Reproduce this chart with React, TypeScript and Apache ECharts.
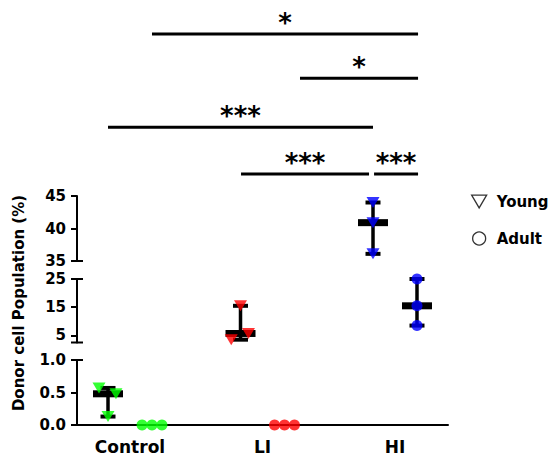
import React, { useEffect, useRef } from 'react';
import * as echarts from 'echarts';

// ---- data ----
const CATEGORIES = ['Control', 'LI', 'HI'];
const GROUPS = ['Young', 'Adult'];
const YOUNG_VALUES = [
  [0.57, 0.48, 0.13],
  [15.5, 5.7, 3.5],
  [44, 40.9, 36.1],
];
const ADULT_VALUES = [
  [0, 0, 0],
  [0, 0, 0],
  [25, 15.5, 8.5],
];
const CATEGORY_COLORS = ['#00ff00', '#ff0000', '#0000ff'];
const Y_LABEL = 'Donor cell Population (%)';

// broken y axis segments, top to bottom
const SEGMENT_MIN = [35, 2.5, 0];
const SEGMENT_MAX = [45, 25, 1];
const SEGMENT_TICKS = [
  [35, 40, 45],
  [5, 15, 25],
  [0, 0.5, 1],
];
const SEGMENT_CAPS = [[35], [2.5, 25], [1]];

// significance brackets (x in category units, level = row)
const BRACKET_FROM = [0.166, 1.283, -0.166, 0.838, 1.842];
const BRACKET_TO = [2.174, 2.174, 1.834, 1.804, 2.174];
const BRACKET_LEVEL = [4, 3.05, 2, 1, 1];
const BRACKET_LABEL = ['*', '*', '***', '***', '***'];

// ---- layout / style ----
const FONT = "'DejaVu Sans', 'Noto Sans', sans-serif";
const X_MIN = -0.4;
const X_MAX = 2.4;
const GROUP_OFFSET = [-0.166, 0.166];
const YOUNG_JITTER = [
  [-0.068, 0.06, 0],
  [0, 0.06, -0.07],
  [0, 0, 0],
];
const ADULT_JITTER = [
  [-0.075, 0, 0.075],
  [-0.075, 0, 0.075],
  [0, 0, 0],
];
const GRID_LEFT = 77;
const GRID_WIDTH = 371;
const SEG_TOP = [196, 279, 360];
const SEG_HEIGHT = [65, 63.5, 65];

function buildOption() {
  const groupValues = [YOUNG_VALUES, ADULT_VALUES];
  const jitters = [YOUNG_JITTER, ADULT_JITTER];
  const symbols = ['path://M0,0L10,0L5,8.5Z', 'circle'];
  const symbolSizes: any[] = [[13, 11], 11];
  const inSeg = (v: number, s: number) =>
    v >= SEGMENT_MIN[s] - 1e-9 && v <= SEGMENT_MAX[s] + 1e-9;

  const grids: any[] = [];
  const xAxes: any[] = [];
  const yAxes: any[] = [];
  const series: any[] = [];

  for (let s = 0; s < 3; s++) {
    grids.push({ left: GRID_LEFT, width: GRID_WIDTH, top: SEG_TOP[s], height: SEG_HEIGHT[s] });
    xAxes.push({
      type: 'value',
      gridIndex: s,
      min: X_MIN,
      max: X_MAX,
      show: s === 2,
      axisLine: { show: true, onZero: false, lineStyle: { color: '#000', width: 2 } },
      axisTick: { show: false },
      splitLine: { show: false },
      axisLabel: {
        customValues: [0, 1, 2],
        formatter: (v: number) => CATEGORIES[Math.round(v)],
        fontSize: 17,
        fontWeight: 'bold',
        color: '#000',
        fontFamily: FONT,
        margin: 13,
      },
    });
    yAxes.push({
      type: 'value',
      gridIndex: s,
      min: SEGMENT_MIN[s],
      max: SEGMENT_MAX[s],
      axisLine: { show: true, onZero: false, lineStyle: { color: '#000', width: 2 } },
      axisTick: {
        show: true,
        length: 6,
        customValues: SEGMENT_TICKS[s],
        lineStyle: { color: '#000', width: 2 },
      },
      splitLine: { show: false },
      axisLabel: {
        customValues: SEGMENT_TICKS[s],
        formatter: (v: number) => (s === 2 ? v.toFixed(1) : String(v)),
        fontSize: 15,
        fontWeight: 'bold',
        color: '#000',
        fontFamily: FONT,
        margin: 11,
      },
    });

    // break caps
    series.push({
      type: 'custom',
      name: 'caps' + s,
      xAxisIndex: s,
      yAxisIndex: s,
      silent: true,
      data: SEGMENT_CAPS[s].map((v) => [X_MIN, v]),
      renderItem: (_p: any, api: any) => {
        const c = api.coord([api.value(0), api.value(1)]);
        return {
          type: 'line',
          shape: { x1: c[0] - 6, y1: c[1], x2: c[0] + 6, y2: c[1] },
          style: { stroke: '#000', lineWidth: 2 },
        };
      },
      z: 3,
    });

    // error bars (median with range)
    const barData: any[] = [];
    for (let g = 0; g < 2; g++) {
      for (let c = 0; c < 3; c++) {
        const vals = [...groupValues[g][c]].sort((a, b) => a - b);
        const lo = vals[0];
        const hi = vals[vals.length - 1];
        const md = vals[Math.floor(vals.length / 2)];
        if (hi > lo && inSeg(md, s)) barData.push([c + GROUP_OFFSET[g], lo, md, hi]);
      }
    }
    series.push({
      type: 'custom',
      name: 'bars' + s,
      xAxisIndex: s,
      yAxisIndex: s,
      silent: true,
      clip: false,
      data: barData,
      renderItem: (_p: any, api: any) => {
        const x = api.value(0);
        const lo = api.coord([x, api.value(1)]);
        const md = api.coord([x, api.value(2)]);
        const hi = api.coord([x, api.value(3)]);
        return {
          type: 'group',
          children: [
            {
              type: 'line',
              shape: { x1: lo[0], y1: lo[1], x2: hi[0], y2: hi[1] },
              style: { stroke: '#000', lineWidth: 3.5 },
            },
            { type: 'rect', shape: { x: hi[0] - 7.5, y: hi[1] - 2, width: 15, height: 4 }, style: { fill: '#000' } },
            { type: 'rect', shape: { x: lo[0] - 7.5, y: lo[1] - 2, width: 15, height: 4 }, style: { fill: '#000' } },
            { type: 'rect', shape: { x: md[0] - 15, y: md[1] - 3.5, width: 30, height: 7 }, style: { fill: '#000' } },
          ],
        };
      },
      z: 4,
    });

    // points
    for (let g = 0; g < 2; g++) {
      const data: any[] = [];
      for (let c = 0; c < 3; c++) {
        groupValues[g][c].forEach((v, i) => {
          if (inSeg(v, s)) {
            data.push({
              value: [c + GROUP_OFFSET[g] + jitters[g][c][i], v],
              itemStyle: { color: CATEGORY_COLORS[c] },
            });
          }
        });
      }
      series.push({
        type: 'scatter',
        name: GROUPS[g],
        xAxisIndex: s,
        yAxisIndex: s,
        symbol: symbols[g],
        symbolSize: symbolSizes[g],
        clip: false,
        data,
        z: 5,
      });
    }
  }

  // significance grid
  grids.push({ left: GRID_LEFT, width: GRID_WIDTH, top: 34, height: 140 });
  xAxes.push({ type: 'value', gridIndex: 3, min: X_MIN, max: X_MAX, show: false });
  yAxes.push({ type: 'value', gridIndex: 3, min: 1, max: 4, show: false });
  series.push({
    type: 'custom',
    name: 'significance',
    xAxisIndex: 3,
    yAxisIndex: 3,
    silent: true,
    clip: false,
    data: BRACKET_FROM.map((f, i) => [f, BRACKET_TO[i], BRACKET_LEVEL[i]]),
    encode: { x: [0, 1], y: 2 },
    renderItem: (p: any, api: any) => {
      const a = api.coord([api.value(0), api.value(2)]);
      const b = api.coord([api.value(1), api.value(2)]);
      return {
        type: 'group',
        children: [
          {
            type: 'line',
            shape: { x1: a[0], y1: a[1], x2: b[0], y2: b[1] },
            style: { stroke: '#000', lineWidth: 3 },
          },
          {
            type: 'text',
            x: (a[0] + b[0]) / 2,
            y: a[1] - 11,
            style: {
              text: BRACKET_LABEL[p.dataIndex],
              fontSize: 26,
              fontWeight: 'bold',
              fontFamily: FONT,
              fill: '#000',
              align: 'center',
              verticalAlign: 'middle',
            },
          },
        ],
      };
    },
  });

  return {
    animation: false,
    backgroundColor: '#fff',
    grid: grids,
    xAxis: xAxes,
    yAxis: yAxes,
    legend: {
      show: true,
      orient: 'vertical',
      left: 466,
      top: 189,
      itemWidth: 15,
      itemHeight: 13,
      itemGap: 22,
      selectedMode: false,
      textStyle: { fontSize: 15, fontWeight: 'bold', color: '#000', fontFamily: FONT, padding: [0, 0, 0, 5] },
      data: [
        {
          name: 'Young',
          icon: 'path://M0,0L10,0L5,8.5Z',
          itemStyle: { color: '#fff', borderColor: '#000', borderWidth: 1.3 },
        },
        {
          name: 'Adult',
          icon: 'circle',
          itemStyle: { color: '#fff', borderColor: '#000', borderWidth: 1.3 },
        },
      ],
    },
    graphic: [
      {
        type: 'text',
        x: 19,
        y: 303,
        rotation: Math.PI / 2,
        style: {
          text: Y_LABEL,
          fontSize: 15,
          fontWeight: 'bold',
          fontFamily: FONT,
          fill: '#000',
          align: 'center',
          verticalAlign: 'middle',
        },
      },
    ],
    series,
  };
}

export default function App() {
  const ref = useRef<HTMLDivElement>(null);
  useEffect(() => {
    if (!ref.current) return;
    const chart = echarts.init(ref.current, undefined, { renderer: 'svg' });
    chart.setOption(buildOption() as any);
    return () => chart.dispose();
  }, []);
  return (
    <div
      ref={ref}
      style={{ position: 'fixed', left: 0, top: 0, width: 549, height: 460, background: '#fff' }}
    />
  );
}
